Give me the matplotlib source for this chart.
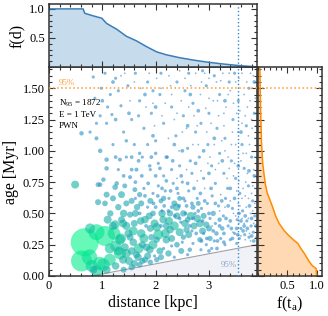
import matplotlib
matplotlib.use("Agg")
import matplotlib.pyplot as plt
import numpy as np
from matplotlib.colors import LinearSegmentedColormap, LogNorm
from matplotlib.ticker import MultipleLocator, FormatStrFormatter

plt.rcParams['font.family'] = ['Liberation Serif', 'DejaVu Serif']
plt.rcParams['mathtext.fontset'] = 'custom'
plt.rcParams['mathtext.rm'] = 'Liberation Serif'
plt.rcParams['mathtext.it'] = 'Liberation Serif:italic'

# sources: (distance [kpc], age [Myr], flux [arb.])
bright_src = [
    (0.67, 0.27, 196), (0.61, 0.12, 110), (1.05, 0.32, 100), (0.89, 0.35, 64),
    (0.77, 0.38, 25), (0.95, 0.10, 45), (1.14, 0.13, 36), (1.33, 0.18, 36),
    (1.33, 0.29, 25), (1.20, 0.40, 16), (1.39, 0.42, 16), (0.80, 0.08, 36),
    (1.22, 0.34, 40), (0.83, 0.05, 16), (1.08, 0.05, 16), (1.14, 0.22, 25),
    (0.76, 0.15, 60), (1.02, 0.09, 40), (0.90, 0.04, 30), (1.25, 0.24, 30),
]
mid_src = [
    (1.39, 0.13, 16), (1.42, 0.23, 16), (1.52, 0.31, 12), (1.64, 0.17, 12),
    (1.58, 0.27, 14), (1.45, 0.18, 20), (1.36, 0.45, 12), (1.24, 0.41, 20),
    (1.49, 0.34, 16), (1.73, 0.34, 18), (1.80, 0.45, 14), (1.83, 0.23, 14),
    (1.67, 0.15, 14), (1.55, 0.07, 10), (1.80, 0.13, 10), (1.92, 0.31, 10),
    (1.89, 0.21, 14), (2.02, 0.39, 18), (2.02, 0.29, 10), (2.20, 0.29, 14),
    (2.14, 0.45, 14), (2.27, 0.37, 14), (2.27, 0.50, 10), (2.39, 0.55, 14),
    (2.52, 0.50, 10), (2.58, 0.37, 10), (2.52, 0.31, 7), (2.83, 0.42, 14),
    (2.95, 0.41, 10), (2.70, 0.55, 7), (2.83, 0.29, 7), (2.24, 0.18, 10),
    (2.02, 0.13, 7), (2.64, 0.21, 5), (3.08, 0.50, 7), (3.14, 0.34, 5),
    (1.08, 0.65, 9), (0.92, 0.59, 9), (1.05, 0.58, 8), (1.24, 0.71, 8),
    (1.36, 0.65, 12), (1.45, 0.58, 9), (1.52, 0.49, 9), (1.73, 0.58, 9),
    (1.61, 0.69, 6), (0.92, 0.73, 6), (0.49, 0.73, 16), (1.30, 0.55, 10),
    (1.15, 0.50, 10), (1.60, 0.42, 12), (1.95, 0.50, 8), (2.10, 0.60, 6),
    (1.70, 0.09, 8), (1.40, 0.05, 9), (2.40, 0.25, 8), (2.60, 0.45, 8),
    (2.20, 0.40, 12), (1.90, 0.38, 12), (2.10, 0.15, 9), (1.75, 0.25, 12),
    (1.55, 0.20, 14), (0.96, 1.00, 5), (0.89, 1.10, 4), (1.08, 0.93, 5),
    (1.08, 0.86, 5), (1.02, 0.77, 5), (0.96, 0.73, 5), (1.27, 0.74, 5),
    (1.52, 0.79, 4), (1.33, 0.93, 4), (1.64, 0.85, 4), (1.89, 0.88, 3),
    (1.70, 0.98, 3), (2.00, 0.98, 3), (1.45, 1.08, 3), (0.61, 1.14, 5),
    (1.30, 0.20, 20), (1.35, 0.30, 25), (1.45, 0.40, 16), (1.50, 0.12, 16),
    (1.58, 0.36, 20), (1.62, 0.50, 12), (1.68, 0.22, 25), (1.72, 0.44, 14),
    (1.78, 0.30, 20), (1.85, 0.16, 12), (1.88, 0.48, 12), (1.95, 0.25, 20),
    (1.98, 0.42, 16), (2.05, 0.33, 25), (2.08, 0.20, 12), (2.12, 0.50, 14),
    (2.18, 0.34, 20), (2.25, 0.44, 16), (2.30, 0.30, 12), (2.35, 0.40, 20),
    (2.40, 0.48, 12), (2.45, 0.35, 16), (2.48, 0.20, 9), (2.55, 0.42, 14),
    (2.62, 0.33, 12), (2.66, 0.48, 16), (2.72, 0.40, 12), (2.78, 0.46, 14),
    (2.88, 0.36, 12), (2.90, 0.48, 9), (3.00, 0.38, 9), (3.02, 0.30, 7),
    (2.35, 0.58, 9), (2.15, 0.62, 7), (1.90, 0.60, 9), (1.70, 0.65, 7),
    (1.55, 0.60, 9), (1.42, 0.72, 6), (1.20, 0.62, 9), (1.10, 0.45, 16),
    (1.40, 0.50, 14), (1.65, 0.55, 10), (2.45, 0.62, 6), (2.80, 0.58, 6),
    (3.20, 0.45, 5), (3.25, 0.38, 5), (1.25, 0.08, 14), (1.60, 0.10, 12),
    (1.90, 0.11, 7), (1.75, 0.12, 9),
]
blue_src = [
    (1.55, 0.85), (1.62, 0.75), (1.68, 0.92), (1.74, 0.80), (1.80, 0.64),
    (1.86, 0.74), (1.92, 0.95), (1.96, 0.58), (2.00, 0.80), (2.04, 0.64),
    (2.08, 0.86), (2.12, 0.70), (2.16, 0.56), (2.20, 0.76), (2.24, 0.52),
    (2.28, 0.68), (2.32, 0.92), (2.36, 0.48), (2.40, 0.70), (2.44, 0.56),
    (2.48, 0.80), (2.52, 0.62), (2.56, 0.50), (2.60, 0.74), (2.64, 0.40),
    (2.68, 0.58), (2.72, 0.70), (2.76, 0.34), (2.80, 0.52), (2.84, 0.66),
    (2.88, 0.44), (2.92, 0.60), (2.96, 0.30), (3.00, 0.50), (3.04, 0.70),
    (3.08, 0.36), (3.12, 0.58), (3.16, 0.28), (3.20, 0.40), (3.24, 0.60),
    (3.28, 0.34), (3.32, 0.46), (3.36, 0.56), (3.40, 0.44), (3.44, 0.30),
    (3.48, 0.62), (3.52, 0.38), (3.56, 0.50), (3.60, 0.44), (3.64, 0.36),
    (3.68, 0.48), (3.72, 0.38), (3.76, 0.56), (3.80, 0.46), (3.84, 0.28),
    (3.88, 0.40), (1.70, 0.50), (1.82, 0.40), (2.00, 0.55), (2.10, 0.40),
    (2.30, 0.55), (2.45, 0.46), (2.58, 0.56), (2.70, 0.46), (2.86, 0.28),
    (3.00, 0.20), (3.15, 0.22), (3.28, 0.27), (3.42, 0.38), (3.54, 0.33),
    (3.66, 0.40), (3.80, 0.32), (2.20, 0.95), (2.50, 1.00), (2.75, 0.90),
    (3.00, 0.82), (3.25, 0.92), (3.55, 0.88), (3.85, 0.80), (2.35, 1.05),
    (2.90, 1.00), (3.40, 0.70), (3.75, 0.84), (1.40, 0.80), (1.25, 0.95),
    (1.55, 0.95), (1.95, 1.12), (2.60, 1.20), (3.10, 1.10), (3.60, 1.15),
    (1.50, 1.30), (2.00, 1.35), (2.80, 1.32), (3.30, 1.40), (3.85, 1.55),
    (1.25, 1.25), (1.80, 1.45), (2.65, 1.45), (1.00, 1.40), (1.20, 1.55),
]
faint_src = [
    (0.83, 1.59), (0.86, 1.42), (0.96, 1.28), (1.08, 1.22), (0.77, 1.15),
    (1.18, 1.29), (0.89, 1.22), (1.62, 0.62), (1.78, 0.70), (1.85, 0.55),
    (1.95, 0.66), (2.05, 0.72), (2.12, 0.52), (2.18, 0.68), (2.25, 0.62),
    (2.33, 0.74), (2.42, 0.66), (2.47, 0.43), (2.55, 0.60), (2.62, 0.68),
    (2.68, 0.36), (2.74, 0.50), (2.78, 0.62), (2.86, 0.54), (2.90, 0.34),
    (2.97, 0.58), (3.02, 0.46), (3.06, 0.64), (3.12, 0.42), (3.18, 0.56),
    (3.22, 0.30), (3.27, 0.48), (3.31, 0.62), (3.36, 0.40), (3.40, 0.29),
    (3.44, 0.54), (3.48, 0.34), (3.53, 0.45), (3.57, 0.30), (3.60, 0.38),
    (3.63, 0.52), (3.67, 0.33), (3.71, 0.44), (3.75, 0.31), (3.79, 0.40),
    (3.83, 0.35), (3.86, 0.48), (2.30, 0.24), (2.50, 0.27), (2.70, 0.26),
    (2.95, 0.25), (3.10, 0.28), (2.15, 0.22), (1.98, 0.16), (2.35, 0.15),
    (2.60, 0.17), (2.85, 0.21), (3.05, 0.22), (3.30, 0.25), (3.52, 0.26),
    (1.15, 1.45), (1.25, 1.58), (1.35, 1.36), (1.48, 1.52), (1.55, 1.25),
    (1.62, 1.62), (1.70, 1.40), (1.78, 1.18), (1.85, 1.55), (1.92, 1.30),
    (2.00, 1.08), (2.08, 1.45), (2.15, 1.22), (2.22, 0.95), (2.30, 1.35),
    (2.38, 1.12), (2.45, 0.88), (2.52, 1.28), (2.60, 1.02), (2.68, 0.82),
    (2.75, 1.15), (2.82, 0.95), (2.90, 0.78), (2.98, 1.05), (3.05, 0.88),
    (3.12, 0.74), (3.20, 0.98), (3.28, 0.82), (3.35, 0.70), (3.42, 0.92),
    (3.50, 0.78), (3.58, 0.66), (3.66, 0.86), (3.74, 0.72), (3.82, 0.60),
    (1.40, 1.15), (1.60, 1.05), (1.75, 0.95), (1.90, 0.85), (2.05, 0.90),
    (2.15, 0.80), (1.30, 0.85), (1.45, 0.95), (1.20, 1.05), (1.10, 1.35),
    (0.98, 1.50), (1.05, 1.62), (1.30, 1.48), (1.68, 1.28), (2.40, 1.55),
    (2.10, 1.62), (1.95, 1.48), (2.55, 1.48), (1.85, 1.05), (2.30, 0.85),
    (2.50, 0.75), (2.65, 0.92), (2.85, 1.22), (3.00, 1.30), (3.15, 1.18),
    (3.30, 1.10), (3.45, 1.25), (3.62, 1.05), (3.80, 0.95), (3.70, 1.20),
    (3.55, 1.40), (3.38, 1.55), (3.20, 1.45), (2.95, 1.52), (2.70, 1.38),
    (2.62, 1.62), (2.88, 1.64), (3.10, 1.60), (3.48, 1.62), (3.75, 1.50),
    (3.85, 1.30),
]
tiny_src = [
    (2.02, 1.58), (2.18, 1.38), (2.28, 1.52), (2.35, 1.25), (2.48, 1.40),
    (2.58, 1.18), (2.66, 1.52), (2.72, 1.28), (2.80, 1.05), (2.84, 1.45),
    (2.92, 1.62), (2.96, 1.15), (3.02, 0.95), (3.08, 1.40), (3.14, 1.55),
    (3.18, 1.28), (3.24, 1.08), (3.26, 1.62), (3.32, 1.35), (3.36, 0.95),
    (3.40, 1.48), (3.44, 1.15), (3.46, 0.80), (3.52, 1.30), (3.56, 1.58),
    (3.60, 0.92), (3.62, 1.22), (3.66, 1.45), (3.69, 0.75), (3.72, 1.35),
    (3.76, 1.05), (3.78, 1.62), (3.81, 1.18), (3.84, 0.85), (3.87, 1.42),
    (3.58, 0.50), (3.62, 0.62), (3.66, 0.42), (3.55, 0.58), (3.52, 0.68),
    (3.70, 0.55), (3.74, 0.62), (3.78, 0.50), (3.82, 0.72), (3.86, 0.58),
    (3.60, 0.32), (3.68, 0.29), (3.76, 0.34), (3.84, 0.42), (3.88, 0.31),
    (3.45, 0.35), (3.40, 0.60), (3.30, 0.55), (3.22, 0.65), (3.12, 0.85),
    (2.92, 0.70), (2.78, 0.76), (2.58, 0.85), (2.44, 1.00), (2.24, 1.10),
    (2.12, 1.28), (1.98, 1.20), (1.82, 1.35), (1.72, 1.50), (1.52, 1.40),
    (1.42, 1.62), (1.88, 1.62), (2.45, 1.64), (3.00, 1.42), (3.28, 1.20),
    (3.50, 1.05), (3.70, 0.98), (3.86, 1.10), (3.34, 0.78), (3.20, 0.52),
    (3.06, 0.40), (2.25, 1.60), (2.40, 1.30), (2.55, 1.58), (2.62, 1.35),
    (2.75, 1.62), (2.78, 1.20), (2.86, 1.55), (2.94, 1.34), (3.00, 1.58),
    (3.04, 1.22), (3.10, 1.05), (3.16, 1.40), (3.22, 1.56), (3.28, 1.30),
    (3.30, 1.00), (3.36, 1.45), (3.38, 1.62), (3.42, 1.05), (3.46, 1.38),
    (3.50, 1.55), (3.54, 1.15), (3.58, 1.32), (3.62, 1.62), (3.64, 0.98),
    (3.68, 1.28), (3.71, 1.55), (3.74, 1.12), (3.77, 1.40), (3.80, 1.25),
    (3.83, 1.60), (3.86, 0.95), (3.88, 1.20), (3.48, 0.90), (3.56, 0.76),
    (3.64, 0.70), (3.72, 0.82), (3.80, 0.66), (3.86, 0.70), (3.68, 0.64),
    (3.58, 0.56), (3.50, 0.48), (3.62, 0.46), (3.74, 0.46), (3.82, 0.52),
    (3.70, 0.36), (3.78, 0.28), (3.56, 0.42), (3.46, 0.50), (3.38, 0.86),
    (3.18, 0.90), (2.98, 0.90), (2.70, 1.05), (2.50, 1.15), (2.30, 1.45),
    (2.10, 1.50), (1.95, 1.38), (1.60, 1.55), (1.35, 1.60), (2.40, 0.78),
    (2.85, 0.84),
]
blue_flux = 3.5
faint_flux = 2.5
tiny_flux = 0.8

# detection threshold (95%)
thr_dist = [0.79, 1.39, 3.90]
thr_age = [0.0, 0.048, 0.25]

# marginal distributions
fd_dist = [0.0, 0.64, 0.67, 0.83, 0.99, 1.08, 1.27, 1.45, 1.64, 1.83, 2.02,
           2.20, 2.45, 2.70, 2.95, 3.26, 3.58, 3.83, 3.90]
fd_val = [1.0, 1.0, 0.925, 0.88, 0.84, 0.75, 0.65, 0.53, 0.45, 0.35, 0.26,
          0.21, 0.16, 0.12, 0.086, 0.052, 0.023, 0.006, 0.0]
ft_age = [0.0, 0.06, 0.08, 0.11, 0.14, 0.18, 0.22, 0.26, 0.29, 0.33, 0.36,
          0.42, 0.48, 0.55, 0.66, 0.72, 0.82, 0.90, 1.06, 1.30, 1.67]
ft_val = [1.0, 0.99, 0.93, 0.88, 0.84, 0.79, 0.73, 0.68, 0.60, 0.51, 0.45,
          0.36, 0.30, 0.25, 0.16, 0.13, 0.10, 0.08, 0.06, 0.045, 0.03]

d95 = 3.54
t95 = 1.5
n95 = 1872

# combine, biggest drawn first
src = [(d, a, f) for d, a, f in bright_src + mid_src]
src += [(d, a, blue_flux) for d, a in blue_src]
src += [(d, a, faint_flux) for d, a in faint_src]
src += [(d, a, tiny_flux) for d, a in tiny_src]
src.sort(key=lambda p: -p[2])
dist = np.array([p[0] for p in src])
age = np.array([p[1] for p in src])
flux = np.array([p[2] for p in src])

cmap = LinearSegmentedColormap.from_list(
    'bg', [(0, '#3b8ad6'), (0.25, '#2a8cc8'), (0.5, '#17ada6'),
           (0.72, '#05df92'), (1, '#00f58a')])
norm = LogNorm(vmin=1, vmax=200, clip=True)

fig = plt.figure(figsize=(3.28, 3.16), dpi=100)
ax = fig.add_axes([0.1494, 0.1266, 0.634, 0.6614])
axt = fig.add_axes([0.1494, 0.788, 0.634, 0.1994], sharex=ax)
axr = fig.add_axes([0.7866, 0.1266, 0.195, 0.6614], sharey=ax)

# threshold shading
ax.fill_between(thr_dist, thr_age, 0, color='#f1f2f7', lw=0, zorder=0)
ax.plot(thr_dist, thr_age, color='#a0a0a8', lw=0.8, zorder=1)
ax.text(3.22, 0.075, '95%', color='#8ea8c8', fontsize=6.5, zorder=1)

ax.scatter(dist, age, s=2.07 * flux, c=flux, cmap=cmap, norm=norm,
           alpha=0.6, edgecolors='none', zorder=2)

ax.axhline(t95, color='#ff9a2e', ls=':', lw=1.1, zorder=3)
ax.axvline(d95, color='#3c86c8', ls=':', lw=1.0, zorder=3)
ax.text(0.18, t95 + 0.01, '95%', color='#ffa040', fontsize=6.5, va='bottom')
ax.text(0.18, 1.38, r'N$_{95}$ = %d' % n95, fontsize=6.5, va='center')
ax.text(0.18, 1.29, 'E = 1 TeV', fontsize=6.5, va='center')
ax.text(0.18, 1.20, 'PWN', fontsize=6.5, va='center')

ax.set_xlim(0, 3.9)
ax.set_ylim(0, 1.67)
ax.set_xlabel('distance [kpc]', fontsize=11.5, labelpad=2)
ax.set_ylabel('age [Myr]', fontsize=11.5, labelpad=3)
ax.xaxis.set_major_locator(MultipleLocator(1))
ax.xaxis.set_minor_locator(MultipleLocator(0.2))
ax.yaxis.set_major_locator(MultipleLocator(0.25))
ax.yaxis.set_minor_locator(MultipleLocator(0.05))
ax.yaxis.set_major_formatter(FormatStrFormatter('%.2f'))

# top panel f(d)
axt.fill_between(fd_dist, fd_val, 0, color='#1f77b4', alpha=0.25, lw=0)
axt.plot(fd_dist, fd_val, color='#3a7db8', lw=1.1)
axt.axvline(d95, color='#3c86c8', ls=':', lw=1.0)
axt.set_ylim(0, 1.085)
axt.set_yticks([0.5, 1.0])
axt.yaxis.set_minor_locator(MultipleLocator(0.1))
axt.set_ylabel('f(d)', fontsize=11.5, labelpad=3)
axt.tick_params(labelbottom=False)

# right panel f(t_a)
axr.fill_betweenx(ft_age, ft_val, 0, color='#ff8c1a', alpha=0.33, lw=0)
axr.plot(ft_val, ft_age, color='#ff8c00', lw=1.1)
axr.axhline(t95, color='#ff9a2e', ls=':', lw=1.1)
axr.set_xlim(0, 1.09)
axr.set_xticks([0.5, 1.0])
axr.xaxis.set_minor_locator(MultipleLocator(0.1))
axr.set_xlabel(r'f(t$_\mathrm{a}$)', fontsize=11.5, labelpad=2)
axr.tick_params(labelleft=False)

for a in (ax, axt, axr):
    a.tick_params(which='both', direction='in', top=True, right=True,
                  color='#333333', width=0.8, labelsize=9, pad=3)
    a.tick_params(which='major', length=4)
    a.tick_params(which='minor', length=2.2)
    for sp in a.spines.values():
        sp.set_linewidth(1.1)
        sp.set_color('#333333')

fig.savefig('out.png', dpi=100)
